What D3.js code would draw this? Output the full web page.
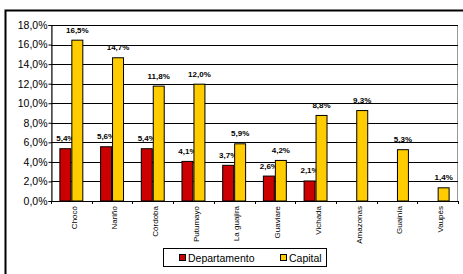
<!DOCTYPE html>
<html>
<head>
<meta charset="utf-8">
<script src="https://cdn.jsdelivr.net/npm/d3@7"></script>
<style>
  body { margin: 0; background: #fff; }
  svg { display: block; font-family: "Liberation Sans", Arial, sans-serif; }
</style>
</head>
<body>
<svg id="container"></svg>
<script>
// data
const categories = ["Chocó", "Nariño", "Córdoba", "Putumayo", "La guajira", "Guaviare", "Vichada", "Amazonas", "Guainía", "Vaupés"];
const departamento = [5.4, 5.6, 5.4, 4.1, 3.7, 2.6, 2.1, null, null, null];
const capital = [16.5, 14.7, 11.8, 12.0, 5.9, 4.2, 8.8, 9.3, 5.3, 1.4];
const yTicks = [0, 2, 4, 6, 8, 10, 12, 14, 16, 18];
const seriesNames = ["Departamento", "Capital"];
const colors = ["#cc0000", "#ffcc00"];

const width = 463, height = 274;
const margin = {left: 51, right: 5, top: 25, bottom: 73};

const svg = d3.select("#container")
    .attr("width", width)
    .attr("height", height);

// outer chart frame (only top/left show in the crop)
svg.append("rect")
    .attr("x", 5.5).attr("y", 10.5)
    .attr("width", 470).attr("height", 280)
    .attr("fill", "none")
    .attr("stroke", "#000")
    .attr("stroke-width", 2);

const x = d3.scaleBand()
    .domain(categories)
    .range([margin.left, width - margin.right]);

const y = d3.scaleLinear()
    .domain([0, 18])
    .range([height - margin.bottom, margin.top]);

const xs = d3.scaleBand()
    .domain(seriesNames)
    .range([0, x.bandwidth()])
    .paddingInner(0)
    .paddingOuter(0.7);

// plot area border
svg.append("rect")
    .attr("x", margin.left + 0.5)
    .attr("y", margin.top + 0.5)
    .attr("width", width - margin.right - margin.left - 1)
    .attr("height", y(0) - margin.top)
    .attr("fill", "none")
    .attr("stroke", "#999")
    .attr("stroke-width", 1);

// gridlines
svg.append("g")
    .selectAll("line")
    .data(yTicks.slice(1))
    .join("line")
    .attr("x1", margin.left)
    .attr("x2", width - margin.right)
    .attr("y1", d => Math.round(y(d)) + 0.5)
    .attr("y2", d => Math.round(y(d)) + 0.5)
    .attr("stroke", "#000")
    .attr("stroke-width", 1);

const series = [departamento, capital];

series.forEach((vals, si) => {
    const g = svg.append("g");
    const rows = categories.map((c, i) => ({cat: c, v: vals[i]})).filter(d => d.v !== null);

    g.selectAll("rect")
        .data(rows)
        .join("rect")
        .attr("x", d => x(d.cat) + xs(seriesNames[si]) + 0.5)
        .attr("y", d => y(d.v) + 0.5)
        .attr("width", xs.bandwidth() - 1)
        .attr("height", d => y(0) - y(d.v) - 0.5)
        .attr("fill", colors[si])
        .attr("stroke", "#000")
        .attr("stroke-width", 1);

    g.selectAll("text")
        .data(rows)
        .join("text")
        .attr("x", d => x(d.cat) + xs(seriesNames[si]) + xs.bandwidth() / 2)
        .attr("y", d => y(d.v) - 7)
        .attr("text-anchor", "middle")
        .attr("font-size", "8px")
        .attr("font-weight", "bold")
        .attr("fill", "#000")
        .text(d => d3.format(".1f")(d.v).replace(".", ",") + "%");
});

// y axis
const yAxis = svg.append("g")
    .attr("transform", `translate(${margin.left + 0.5},0)`)
    .call(d3.axisLeft(y)
        .tickValues(yTicks)
        .tickSize(3)
        .tickFormat(d => d3.format(".1f")(d).replace(".", ",") + "%"));
yAxis.select(".domain").attr("stroke", "#000");
yAxis.selectAll("line").attr("stroke", "#000");
yAxis.selectAll("text")
    .attr("font-size", "10.5px")
    .attr("font-family", "Liberation Sans, Arial, sans-serif")
    .attr("fill", "#000")
    .attr("x", -4);

// x axis baseline with ticks at category boundaries
const xg = svg.append("g");
xg.append("line")
    .attr("x1", margin.left)
    .attr("x2", width - margin.right)
    .attr("y1", y(0) + 0.5)
    .attr("y2", y(0) + 0.5)
    .attr("stroke", "#000");
xg.selectAll("line.tick")
    .data(categories.concat(["__end"]))
    .join("line")
    .attr("class", "tick")
    .attr("x1", (d, i) => Math.round(margin.left + i * x.step()) + 0.5)
    .attr("x2", (d, i) => Math.round(margin.left + i * x.step()) + 0.5)
    .attr("y1", y(0))
    .attr("y2", y(0) + 3)
    .attr("stroke", "#000");

xg.selectAll("text")
    .data(categories)
    .join("text")
    .attr("transform", d => `translate(${x(d) + x.bandwidth() / 2 + 2.5},${y(0) + 5}) rotate(-90)`)
    .attr("text-anchor", "end")
    .attr("dy", "0.35em")
    .attr("font-size", "8px")
    .attr("fill", "#000")
    .text(d => d);

// legend
const legend = svg.append("g");
legend.append("rect")
    .attr("x", 163.5).attr("y", 248.5)
    .attr("width", 163).attr("height", 18)
    .attr("fill", "#fff")
    .attr("stroke", "#000");

const legendX = [179, 280];
seriesNames.forEach((name, i) => {
    legend.append("rect")
        .attr("x", legendX[i] + 0.5).attr("y", 254.5)
        .attr("width", 6).attr("height", 6)
        .attr("fill", colors[i])
        .attr("stroke", "#000");
    legend.append("text")
        .attr("x", legendX[i] + 9)
        .attr("y", 261.5)
        .attr("font-size", "10.5px")
        .attr("fill", "#000")
        .text(name);
});
</script>
</body>
</html>
